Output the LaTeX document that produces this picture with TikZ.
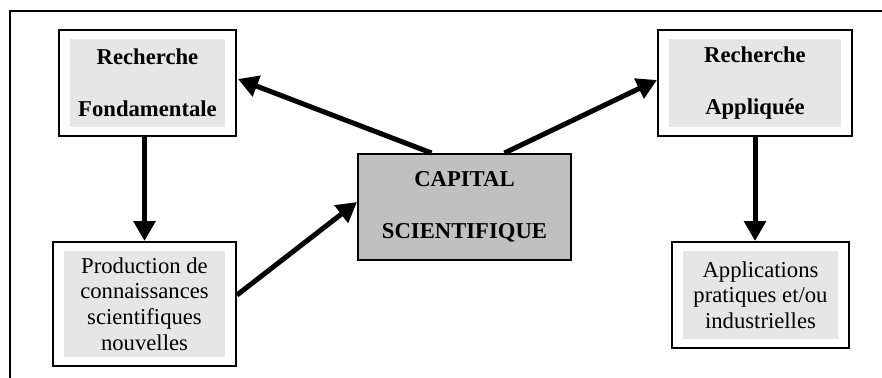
\documentclass[tikz,border=0pt]{standalone}
\usepackage{fontspec}
\setmainfont{Liberation Serif}
\usepackage{tikz}
\usetikzlibrary{arrows.meta,calc}
\newcommand{\px}{0.75pt}
\definecolor{fondgris}{HTML}{E6E6E6}
\definecolor{capgris}{HTML}{C0C0C0}
\tikzset{
  cadre/.style={draw, line width=1.5pt, inner sep=0pt, align=center,
    path picture={\fill[fondgris] ([xshift=11*\px,yshift=9*\px]path picture bounding box.south west)
      rectangle ([xshift=-11*\px,yshift=-9*\px]path picture bounding box.north east);}},
  titre/.style={font=\fontsize{17}{39}\selectfont\bfseries},
  texte/.style={font=\fontsize{17}{19.3}\selectfont},
  fleche/.style={line width=3.75pt, -{Triangle[length=15pt, width=16pt]}}
}

\begin{document}
\begin{tikzpicture}[x=\px, y=-\px]
                %\draw[help lines] (0,0) grid (882,378);
                \useasboundingbox (0,0) rectangle (882,378);
                \draw[line width=1.5pt] (10,378) -- (10,11) -- (882,11);
                % les cinq cadres
                \node[cadre, titre, minimum width=177*\px, minimum height=106*\px] (fond) at (147.5,83) {Recherche\\Fondamentale};
                \node[cadre, texte, minimum width=183*\px, minimum height=124*\px] (prod) at (144.5,304) {Production de\\connaissances\\scientifiques\\nouvelles};
                \node[draw, fill=capgris, line width=1.5pt, titre, align=center, inner sep=0pt,
                      minimum width=213*\px, minimum height=106*\px] (capital) at (464.5,207) {CAPITAL\\SCIENTIFIQUE};
                \node[cadre, titre, minimum width=194*\px, minimum height=106*\px] (appl) at (755,83) {Recherche\\Appliquée};
                \node[cadre, texte, minimum width=177*\px, minimum height=106*\px] (applic) at (760.5,295) {Applications\\pratiques et/ou\\industrielles};
                % les fleches
                \draw[fleche] (fond.south -| prod.north) -- (prod.north);
                \draw[fleche] (appl.south) -- (appl.south |- applic.north);
                \draw[fleche] ($(capital.north)+(-33,0)$) -- ($(fond.east)+(1,-4)$);
                \draw[fleche] ($(capital.north)+(40,0)$) -- ($(appl.west)+(0,-3)$);
                \draw[fleche] ($(prod.east)+(0,-9)$) -- ($(capital.west)+(0,-5)$);
\end{tikzpicture}
\end{document}
